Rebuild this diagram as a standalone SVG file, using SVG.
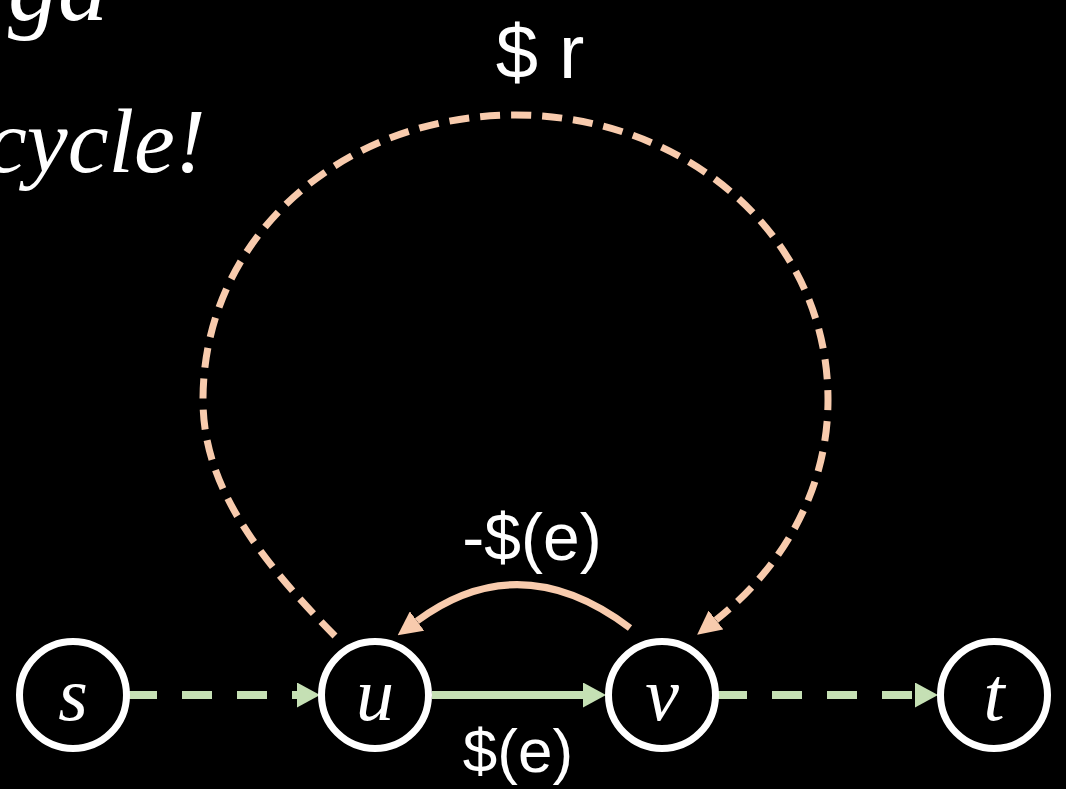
<svg xmlns="http://www.w3.org/2000/svg" width="1066" height="789" viewBox="0 0 1066 789">
<style>
.node{fill:#000;stroke:#fff;stroke-width:7}
.nl{fill:#fff;font-family:"Liberation Serif",serif;font-style:italic;font-size:76px;text-anchor:middle}
.hw{fill:#fff;font-family:"Liberation Sans",sans-serif;text-anchor:middle}
.g{fill:none;stroke:#c5e0b4;stroke-width:8}
.o{fill:none;stroke:#f8cbad;stroke-width:7}
.note{fill:#fff;font-family:"Liberation Serif",serif;font-style:italic}
</style>
<defs>
<marker id="ag" markerUnits="userSpaceOnUse" markerWidth="23" markerHeight="25" refX="0" refY="12.5" orient="auto" viewBox="0 0 23 25"><path d="M0,0 L23,12.5 L0,25 z" fill="#c5e0b4"/></marker>
<marker id="ao" markerUnits="userSpaceOnUse" markerWidth="24" markerHeight="24" refX="0" refY="12" orient="auto" viewBox="0 0 24 24"><path d="M0,0 L24,12 L0,24 z" fill="#f8cbad"/></marker>
</defs>
<rect x="0" y="0" width="1066" height="789" fill="#000"/>
<g id="note">
<text class="note" x="8" y="20" font-size="100">ga</text>
<text class="note" x="-14" y="172" font-size="92">cycle!</text>
</g>
<g id="connectors">
<line class="g" x1="127" y1="695" x2="297" y2="695" stroke-dasharray="30 25" marker-end="url(#ag)"/>
<line class="g" x1="432" y1="695" x2="583" y2="695" marker-end="url(#ag)"/>
<line class="g" x1="717" y1="695" x2="915" y2="695" stroke-dasharray="30 25" marker-end="url(#ag)"/>
<path class="o" d="M 335 636 C 250 550, 203 480, 203 400 C 203 235, 345 115, 515 115 C 685 115, 828 235, 828 400 C 828 490, 782 568, 716 620" stroke-dasharray="20 11" marker-end="url(#ao)"/>
<path class="o" d="M 630 628 Q 520 545 417 621" marker-end="url(#ao)"/>
</g>
<g id="labels">
<text class="hw" x="540" y="78" font-size="76">$ r</text>
<text class="hw" x="532" y="560" font-size="66">-$(e)</text>
<text class="hw" x="518" y="772" font-size="62">$(e)</text>
</g>
<g id="node-s"><circle class="node" cx="73" cy="695" r="53.5"/><text class="nl" x="73" y="720">s</text></g>
<g id="node-u"><circle class="node" cx="375" cy="695" r="53.5"/><text class="nl" x="375" y="720">u</text></g>
<g id="node-v"><circle class="node" cx="662" cy="695" r="53.5"/><text class="nl" x="662" y="720">v</text></g>
<g id="node-t"><circle class="node" cx="994" cy="695" r="53.5"/><text class="nl" x="994" y="720">t</text></g>
</svg>
